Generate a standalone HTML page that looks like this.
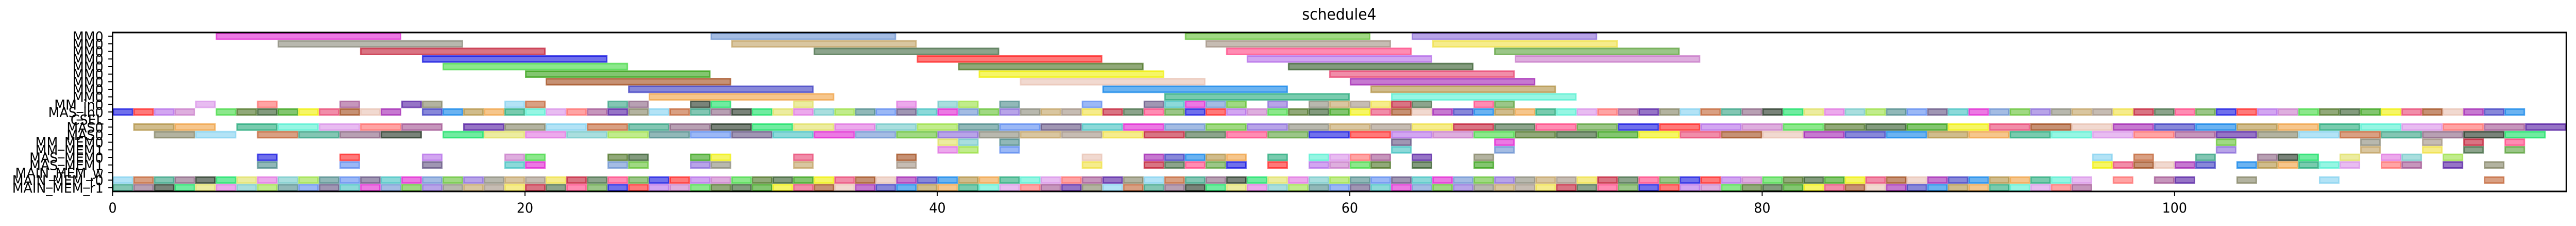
<!DOCTYPE html>
<html><head><meta charset="utf-8"><style>
html,body{margin:0;padding:0;background:#fff;width:100%;height:100%;overflow:hidden;}
svg{display:block;width:100vw;height:100vh;font-family:"DejaVu Sans","Liberation Sans",sans-serif;}
</style></head><body>
<svg id="chart" viewBox="0 0 5330 438" preserveAspectRatio="none" xmlns="http://www.w3.org/2000/svg" overflow="hidden">
<text x="2771" y="38" font-size="30" text-anchor="middle">schedule4</text>
<g id="bars"></g>
<g id="yaxis"></g>
<g id="xaxis"></g>
<rect x="233" y="63" width="5077" height="308" fill="none" stroke="#000" stroke-width="3"/>
</svg>
<script>
const rowLabels = ["MM0","MM0","MM0","MM0","MM0","MM0","MM0","MM0","MM0","MM_in0","MAS_in0","CSEL","MAS0","MAS0","MM_MEM0","MM_MEM1","MAS_MEM0","MAS_MEM1","MAIN_MEM_w","MAIN_MEM_r0","MAIN_MEM_r1"];
const xTicks = [0,20,40,60,80,100];
// MM0 rows: task start times (duration 9)
const mmStarts = [[5,29,52,63],[8,30,53,64],[12,34,54,67],[15,39,55,68],[16,41,57],[20,42,59],[21,44,60],[25,48,61],[26,51,62]];
const mmDur = 9;
const mmIn0 = [4,7,11,14,15,19,20,24,25,28,29,33,38,40,41,43,47,50,51,52,53,54,56,58,59,60,61,62,63,66,67];
const masIn0Ranges = [[0,3],[5,13],[15,116]];
const mas0aStarts = [1,3,6,8,10,12,14,17,19,21,23,25,27,29,31,33,35,37,39,41,43,45,47,49,51,53,55,57,59,61,63,65,67,69,71,73,75,77,79,81,83,85,87,89,91,93,95,97,99,101,103,105,107,109,111,113,115,117];
const mas0bStarts = [2,4,7,9,11,13,16,18,20,22,24,26,28,30,32,34,36,38,40,42,44,46,48,50,52,54,56,58,60,62,64,66,68,70,72,74,76,78,80,82,84,86,88,90,92,94,96,98,100,102,104,106,108,110,112,114,116];
const masDur = 2;
const mmMem = [40,41,43,62,67,102,109,112,114,116];
const masMem0 = [7,11,15,19,20,24,25,28,29,33,38,47,50,51,52,53,54,56,58,59,60,61,63,66,96,98,101,104,105,106,108,110,111,113];
const masMem1 = [7,11,15,19,20,24,25,28,29,33,38,47,50,51,52,53,54,56,58,59,60,61,63,66,96,97,98,99,100,101,103,104,105,106,107,108,110,111,113,115];
const mainR0Ranges = [[0,95]];
const mainR0Extra = [97,99,100,103,107,115];
const mainR1Ranges = [[0,95]];

const X0=233, X1=5310, XMAX=119, Y0=63, Y1=371, NROWS=21;
const xs = v => X0 + v*(X1-X0)/XMAX;
const ys = r => Y0 + r*(Y1-Y0)/NROWS;
const NS="http://www.w3.org/2000/svg";
const palette=["#e8416f","#b46be8","#f0e040","#e020d0","#e070e0","#80d0f0","#20a878","#a04818","#c878c8","#c01830","#6890d0","#70c8c8","#c06030","#50f0d0","#e8c0b0","#40d840","#406840","#60c030","#98e040","#30a080","#d890e8","#a020b0","#487020","#ff4080","#8868d8","#488888","#886080","#ff6868","#3838c0","#305828","#58a038","#888878","#5888f0","#203020","#a05090","#0880e8","#30a010","#1010e0","#c0a060","#605080","#10e060","#5018a0","#b09040","#f0f000","#ff2020","#a09080","#40c0c0","#e0e060","#808060","#f0a040"];
let ci=0;
const bars=document.getElementById('bars');
function addBar(start,dur,row,name){
  const c=palette[(ci*7+3)%palette.length]; ci++;
  const r=document.createElementNS(NS,'rect');
  
  
  const x=xs(start), w=xs(start+dur)-x, y=ys(row), h=ys(row+1)-y;
  r.setAttribute('x',x+1.5);r.setAttribute('y',y+1.5);r.setAttribute('width',Math.max(0,Math.min(w-3,X1-x-3)));r.setAttribute('height',h-3);
  r.setAttribute('fill',c);r.setAttribute('fill-opacity','0.6');r.setAttribute('stroke',c);r.setAttribute('stroke-width','3');r.setAttribute('stroke-opacity','0.7');
  bars.appendChild(r);
}
mmStarts.forEach((arr,row)=>arr.forEach(s=>addBar(s,mmDur,row,'mm0-task')));
mmIn0.forEach(s=>addBar(s,1,9,'mm-in0-task'));
masIn0Ranges.forEach(([a,b])=>{for(let s=a;s<=b;s++)addBar(s,1,10,'mas-in0-task');});
mas0aStarts.forEach(s=>addBar(s,masDur,12,'mas0-task'));
mas0bStarts.forEach(s=>addBar(s,masDur,13,'mas0-task'));
mmMem.forEach(s=>{addBar(s,1,14,'mm-mem0-task');addBar(s,1,15,'mm-mem1-task');});
masMem0.forEach(s=>addBar(s,1,16,'mas-mem0-task'));
masMem1.forEach(s=>addBar(s,1,17,'mas-mem1-task'));
mainR0Ranges.forEach(([a,b])=>{for(let s=a;s<=b;s++)addBar(s,1,19,'main-mem-r0-task');});
mainR0Extra.forEach(s=>addBar(s,1,19,'main-mem-r0-task'));
mainR1Ranges.forEach(([a,b])=>{for(let s=a;s<=b;s++)addBar(s,1,20,'main-mem-r1-task');});

const ya=document.getElementById('yaxis');
rowLabels.forEach((lab,i)=>{
  const yc=(ys(i)+ys(i+1))/2;
  const t=document.createElementNS(NS,'line');
  
  
  t.setAttribute('x1',224);t.setAttribute('x2',233);t.setAttribute('y1',yc);t.setAttribute('y2',yc);t.setAttribute('stroke','#000');t.setAttribute('stroke-width','2');
  ya.appendChild(t);
  const tx=document.createElementNS(NS,'text');
  
  
  tx.setAttribute('x',214);tx.setAttribute('y',yc+10);tx.setAttribute('font-size','27');tx.setAttribute('text-anchor','end');
  tx.textContent=lab; ya.appendChild(tx);
});
const xa=document.getElementById('xaxis');
xTicks.forEach(v=>{
  const x=xs(v);
  const t=document.createElementNS(NS,'line');
  
  
  t.setAttribute('x1',x);t.setAttribute('x2',x);t.setAttribute('y1',371);t.setAttribute('y2',380);t.setAttribute('stroke','#000');t.setAttribute('stroke-width','2');
  xa.appendChild(t);
  const tx=document.createElementNS(NS,'text');
  
  
  tx.setAttribute('x',x);tx.setAttribute('y',412);tx.setAttribute('font-size','27');tx.setAttribute('text-anchor','middle');
  tx.textContent=v; xa.appendChild(tx);
});
</script>
</body></html>
